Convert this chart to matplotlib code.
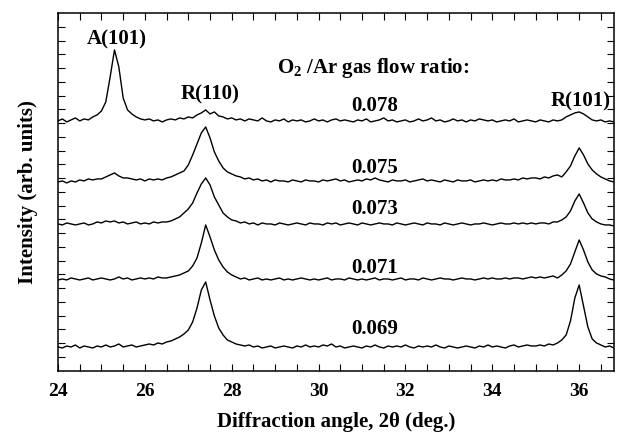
import numpy as np
import matplotlib
matplotlib.use('Agg')
import matplotlib.pyplot as plt

plt.rcParams['font.family'] = ['Liberation Serif', 'DejaVu Serif']
plt.rcParams['font.weight'] = 'bold'
plt.rcParams['mathtext.fontset'] = 'custom'
plt.rcParams['mathtext.rm'] = 'Liberation Serif:bold'
plt.rcParams['mathtext.it'] = 'Liberation Serif:italic:bold'
plt.rcParams['mathtext.bf'] = 'Liberation Serif:bold'

# 2theta grid, 24.0 .. 36.8 deg in 0.1 deg steps
two_theta = np.round(np.arange(24.0, 36.85, 0.1), 1)

ratios = ['0.078', '0.075', '0.073', '0.071', '0.069']

i_078 = [1, 3, 0, 2, 4, 1, 3, 2, 5, 7,
         11, 20, 45, 72, 55, 24, 12, 8, 5, 3,
         2, 3, 1, 2, 0, 2, 3, 2, 4, 3,
         5, 4, 7, 9, 12, 8, 10, 6, 5, 3,
         4, 2, 3, 1, 3, 2, 1, 4, 1, 0,
         2, 1, 3, 0, 2, 1, 2, 0, 1, 3,
         1, 2, 0, 2, 3, 1, 2, 1, 0, 2,
         1, 3, 0, 1, 2, 4, 1, 2, 0, 1,
         2, 0, 1, 3, 1, 2, 4, 1, 2, 0,
         1, 3, 1, 2, 0, 2, 1, 3, 2, 1,
         2, 0, 1, 2, 1, 3, 0, 1, 2, 1,
         0, 2, 1, 0, 2, 1, 2, 5, 7, 9,
         10, 8, 5, 2, 1, 2, 0, 1, 0]

i_075 = [0, 1, -1, 1, 0, 2, 1, 3, 2, 3,
         3, 5, 7, 9, 6, 4, 4, 3, 2, 3,
         1, 3, 2, 3, 2, 4, 5, 7, 9, 11,
         17, 27, 38, 49, 55, 44, 30, 21, 14, 10,
         8, 6, 5, 3, 4, 2, 3, 1, 2, 0,
         2, 1, 1, 0, 2, 1, 0, 2, 1, 1,
         0, 2, 1, 2, 3, 1, 2, 0, 1, 2,
         1, 3, 2, 4, 2, 1, 0, 2, 1, 1,
         2, 0, 1, 2, 3, 1, 2, 1, 0, 2,
         1, 0, 2, 1, 1, 2, 0, 1, 2, 1,
         2, 1, 3, 2, 2, 3, 2, 4, 3, 4,
         4, 3, 5, 4, 6, 7, 5, 10, 16, 26,
         34, 27, 18, 12, 8, 5, 3, 1, 0]

i_073 = [1, 0, 2, 1, 0, 1, 2, 0, 1, 3,
         2, 4, 3, 4, 2, 3, 1, 2, 3, 1,
         2, 1, 3, 2, 3, 3, 4, 6, 8, 12,
         16, 22, 32, 41, 47, 40, 28, 20, 12, 8,
         5, 4, 2, 3, 1, 2, 0, 2, 1, 1,
         0, 2, 1, 0, 1, 2, 1, 0, 2, 1,
         1, 0, 2, 1, 2, 0, 1, 2, 1, 0,
         2, 1, 0, 1, 2, 1, 1, 0, 2, 1,
         0, 1, 2, 1, 0, 2, 1, 1, 0, 2,
         1, 0, 1, 2, 1, 0, 1, 1, 2, 1,
         0, 1, 2, 1, 1, 2, 1, 2, 1, 2,
         1, 2, 2, 1, 3, 3, 5, 8, 14, 24,
         31, 22, 12, 6, 3, 1, 0, 0, -1]

i_071 = [0, 1, 0, 2, 1, 0, 1, 2, 0, 1,
         2, 1, 0, 1, 3, 1, 2, 0, 1, 2,
         1, 2, 1, 3, 2, 2, 3, 4, 5, 7,
         9, 14, 22, 37, 55, 43, 30, 20, 13, 8,
         5, 3, 1, 2, 0, 1, 2, 0, 1, 0,
         1, 2, 0, 1, 0, 1, 2, 1, 0, 1,
         0, 1, 2, 0, 1, 1, 0, 2, 1, 0,
         1, 0, 1, 2, 0, 1, 1, 0, 1, 2,
         0, 1, 1, 0, 2, 1, 0, 1, 2, 1,
         1, 0, 1, 2, 1, 1, 0, 1, 2, 1,
         2, 1, 1, 2, 1, 2, 2, 1, 2, 3,
         2, 3, 2, 3, 4, 2, 5, 9, 16, 28,
         40, 30, 18, 10, 6, 4, 3, 1, 0]

i_069 = [1, 0, 2, 1, 3, 0, 2, 1, 0, 2,
         1, 3, 1, 2, 4, 1, 2, 3, 1, 2,
         3, 4, 3, 5, 4, 6, 7, 9, 11, 14,
         18, 26, 40, 58, 66, 48, 32, 20, 13, 8,
         6, 4, 3, 2, 3, 1, 2, 0, 1, 2,
         0, 1, 2, 1, 0, 2, 1, 3, 1, 2,
         1, 3, 2, 4, 1, 2, 0, 1, 2, 1,
         0, 2, 1, 3, 1, 0, 2, 1, 2, 1,
         3, 1, 0, 2, 1, 2, 1, 3, 1, 0,
         2, 1, 0, 1, 2, 1, 0, 2, 1, 3,
         1, 2, 1, 0, 2, 3, 1, 2, 3, 2,
         2, 3, 2, 4, 3, 5, 8, 13, 27, 50,
         63, 42, 21, 9, 5, 3, 1, 2, 0]

intensities = [i_078, i_075, i_073, i_071, i_069]
offsets = [249, 189, 146, 91, 23]

fig = plt.figure(figsize=(6.26, 4.33), dpi=100)
ax = fig.add_axes([0.0927, 0.1432, 0.888, 0.827])

for y, off in zip(intensities, offsets):
    ax.plot(two_theta, np.array(y) + off, color='black', lw=1.0)

ax.set_xlim(24, 36.8)
ax.set_ylim(0, 358)

ax.set_xticks(np.arange(24, 37, 2))
ax.set_xticks(np.arange(24, 37, 0.5), minor=True)
ax.set_yticks(np.arange(14, 350, 13.75))
ax.set_yticklabels([])
ax.tick_params(axis='both', which='both', direction='in', top=True, right=True,
               length=5, width=0.8)
ax.tick_params(axis='x', labelsize=14, pad=9)
for s in ax.spines.values():
    s.set_linewidth(1.1)

ax.set_xlabel('Diffraction angle, 2\u03b8 (deg.)', fontsize=15, fontweight='bold', labelpad=8)
ax.set_ylabel('Intensity (arb. units)', fontsize=15, fontweight='bold', labelpad=11)

# peak and series labels
ax.text(25.35, 331, 'A(101)', ha='center', va='center', fontsize=15, fontweight='bold')
ax.text(27.49, 276, 'R(110)', ha='center', va='center', fontsize=15, fontweight='bold')
ax.text(36.04, 269, 'R(101)', ha='center', va='center', fontsize=15, fontweight='bold')
ax.text(31.26, 303, 'O$_2$ /Ar gas flow ratio:', ha='center', va='center', fontsize=15,
        fontweight='bold')
label_y = [265, 203, 162, 103, 42]
for r, ly in zip(ratios, label_y):
    ax.text(31.3, ly, r, ha='center', va='center', fontsize=15, fontweight='bold')

fig.savefig('out.png', dpi=100, facecolor='white')
